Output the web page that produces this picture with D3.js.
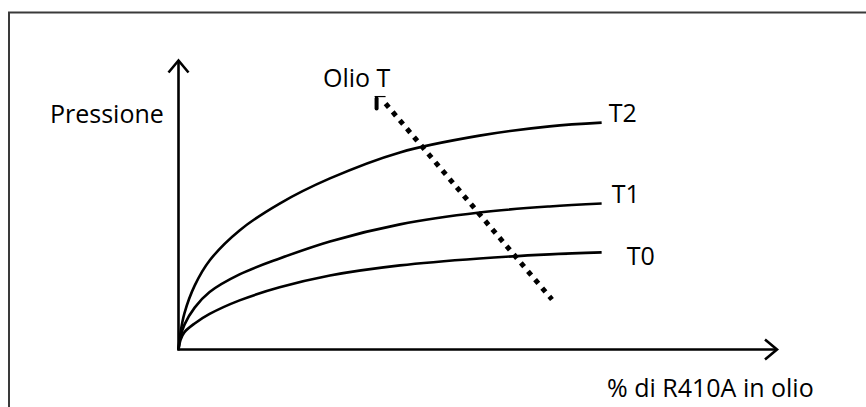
<!DOCTYPE html>
<html>
<head>
<meta charset="utf-8">
<script src="https://cdn.jsdelivr.net/npm/d3@7"></script>
<style>
  html, body { margin: 0; padding: 0; background: #fff; }
  svg { display: block; }
  text { font-family: "Open Sans", "Noto Sans", sans-serif; fill: #000; }
</style>
</head>
<body>
<script>
// ---- data ----
const xPercent = [0, 0.33, 1.0, 2.7, 5.2, 10.2, 16.9, 25.3, 37.0, 50.3, 62.0, 70.7];
const seriesT0 = [0, 3.3, 6.0, 9.0, 12.3, 17.0, 21.5, 25.6, 29.1, 31.5, 32.9, 33.6];
const seriesT1 = [0, 4.4, 8.6, 14.5, 19.9, 26.0, 31.5, 37.4, 43.3, 47.4, 49.5, 50.5];
const seriesT2 = [0, 5.8, 12.6, 22.1, 30.8, 41.2, 50.5, 59.2, 68.2, 74.0, 77.2, 78.5];
const seriesNames = ["T0", "T1", "T2"];
const oilLineX = [34.6, 62.4];
const oilLineY = [85.1, 17.3];
const yAxisLabel = "Pressione";
const xAxisLabel = "% di R410A in olio";
const oilLabel = "Olio T";

const W = 866, H = 407;
const svg = d3.select("body").append("svg").attr("width", W).attr("height", H);

// frame (top + left edges visible)
svg.append("path").attr("d", `M9,407 L9,12.5 L866,12.5`)
  .attr("fill", "none").attr("stroke", "#3a3a3a").attr("stroke-width", 2);

const x = d3.scaleLinear().domain([0, 100]).range([178.5, 777]);
const y = d3.scaleLinear().domain([0, 100]).range([349.5, 60.5]);

// axes as arrows
const axisG = svg.append("g").attr("stroke", "#000").attr("stroke-width", 2.6).attr("fill", "none");
axisG.append("line").attr("x1", x(0)).attr("y1", y(0) + 1).attr("x2", x(0)).attr("y2", y(100));
axisG.append("line").attr("x1", x(0) - 1).attr("y1", y(0)).attr("x2", x(100)).attr("y2", y(0));
axisG.append("path").attr("d", `M${x(0) - 10},${y(100) + 12} L${x(0)},${y(100)} L${x(0) + 10},${y(100) + 12}`);
axisG.append("path").attr("d", `M${x(100) - 12},${y(0) - 10} L${x(100)},${y(0)} L${x(100) - 12},${y(0) + 10}`);

// curves
const allSeries = [seriesT0, seriesT1, seriesT2];
const line = d3.line().x(d => x(d[0])).y(d => y(d[1])).curve(d3.curveCatmullRom.alpha(0.5));
allSeries.forEach(s => {
  svg.append("path")
    .attr("d", line(xPercent.map((xv, i) => [xv, s[i]])))
    .attr("fill", "none").attr("stroke", "#000").attr("stroke-width", 2.6)
    .attr("stroke-linejoin", "round");
});

// dotted oil line
svg.append("line")
  .attr("x1", x(oilLineX[0])).attr("y1", y(oilLineY[0]))
  .attr("x2", x(oilLineX[1])).attr("y2", y(oilLineY[1]))
  .attr("stroke", "#000").attr("stroke-width", 5).attr("stroke-dasharray", "5,6");
// small mark at the start of the oil line
const sx = x(oilLineX[0]), sy = y(oilLineY[0]);
svg.append("path").attr("d", `M${sx - 9},${sy - 5} L${sx - 9},${sy + 5}`)
  .attr("stroke", "#000").attr("stroke-width", 4).attr("stroke-linecap", "round");
svg.append("path").attr("d", `M${sx - 11},${sy - 7} L${sx},${sy - 7}`)
  .attr("stroke", "#000").attr("stroke-width", 1.2);

// labels
const fs = 25;
svg.append("text").attr("x", 50).attr("y", 123).attr("font-size", fs).text(yAxisLabel);
svg.append("text").attr("x", 323).attr("y", 87).attr("font-size", fs).text(oilLabel);
svg.append("text").attr("x", 607).attr("y", 397).attr("font-size", fs).text(xAxisLabel);

const endX = xPercent[xPercent.length - 1];
const labelDx = [25, 10, 7];
const labelDy = [14, 0, 0];
allSeries.forEach((s, i) => {
  svg.append("text")
    .attr("x", x(endX) + labelDx[i])
    .attr("y", y(s[s.length - 1]) + labelDy[i] - 1)
    .attr("font-size", fs)
    .text(seriesNames[i]);
});
</script>
</body>
</html>
